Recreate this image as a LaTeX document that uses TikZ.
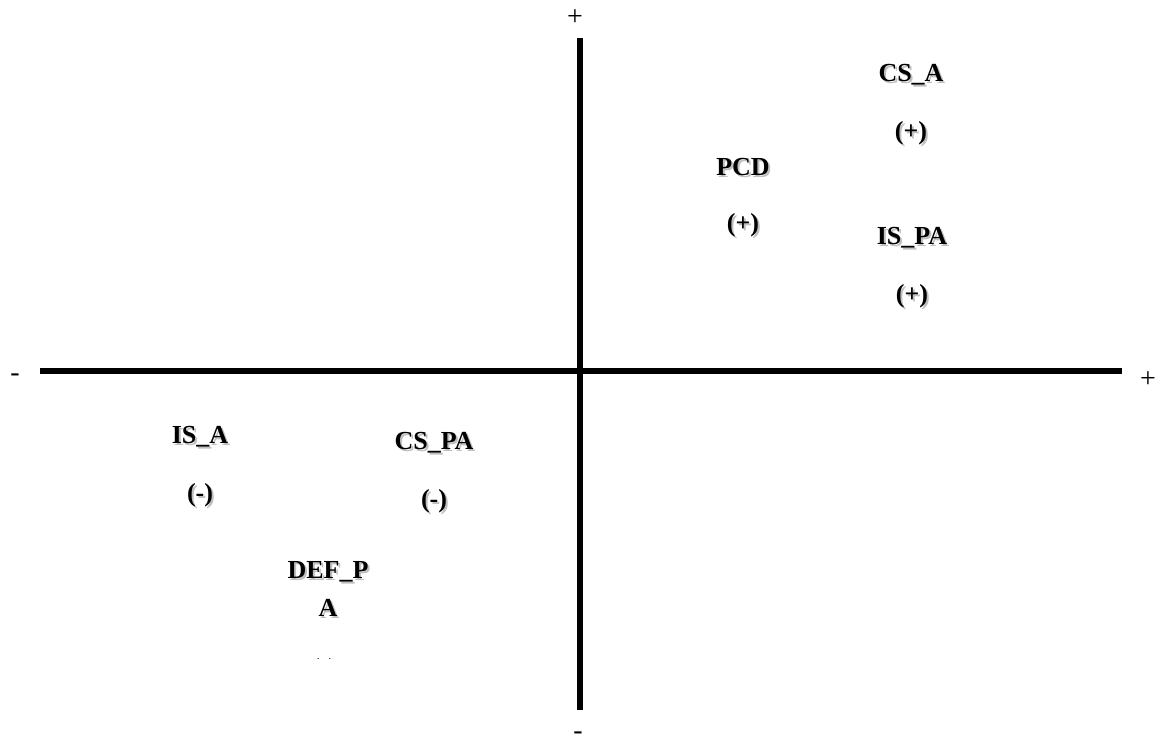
\documentclass[tikz,border=0pt]{standalone}
\usepackage{fontspec}
\setmainfont{Liberation Serif}
\usepackage{tikz}
\usetikzlibrary{positioning}

\begin{document}
\begin{tikzpicture}[x=0.75pt, y=-0.75pt,
  lab/.style={font=\bfseries\fontsize{19.5}{28}\selectfont, inner sep=0pt, align=center},
  shd/.style={lab, text=black!25, xshift=1.5pt, yshift=-1.5pt},
  sgn/.style={font=\fontsize{21}{25}\selectfont, inner sep=0pt},
  axis/.style={line width=4.6pt}]
  \useasboundingbox (0,0) rectangle (1156,739);
  % --- axes ---
  \coordinate (top) at (580,38);
  \coordinate (bot) at (580,710);
  \coordinate (lft) at (40,371);
  \coordinate (rgt) at (1122,371);
  \draw[axis] (top) -- (bot);
  \draw[axis] (lft) -- (rgt);
  \node[sgn] (ptop) at (575,18) {+};
  \node[sgn] (prgt) at (1148,380) {+};
  \node[sgn] (mlft) at (15,378) {-};
  \node[sgn] (mbot) at (578,736) {-};
  % --- variables ---
  \foreach \n/\t/\s/\x/\y in {csa/CS\_A/(+)/911/75, pcd/PCD/(+)/743/167,
                             ispa/IS\_PA/(+)/912/238, isa/IS\_A/(-)/200/437,
                             cspa/CS\_PA/(-)/434/443}{
    \node[shd] at (\x,\y) {\t};
    \node[lab] (\n) at (\x,\y) {\t};
    \node[shd] at (\x,\y+58) {\s};
    \node[lab] (\n s) at (\x,\y+58) {\s};
  }
  \node[shd] at (328,589) {DEF\_P\\A};
  \node[lab] (defpa) at (328,589) {DEF\_P\\A};
  \begin{scope}
    \clip (280,640) rectangle (380,658);
    \node[lab] (defpas) at (324,670) {(-)};
  \end{scope}
\end{tikzpicture}
\end{document}
